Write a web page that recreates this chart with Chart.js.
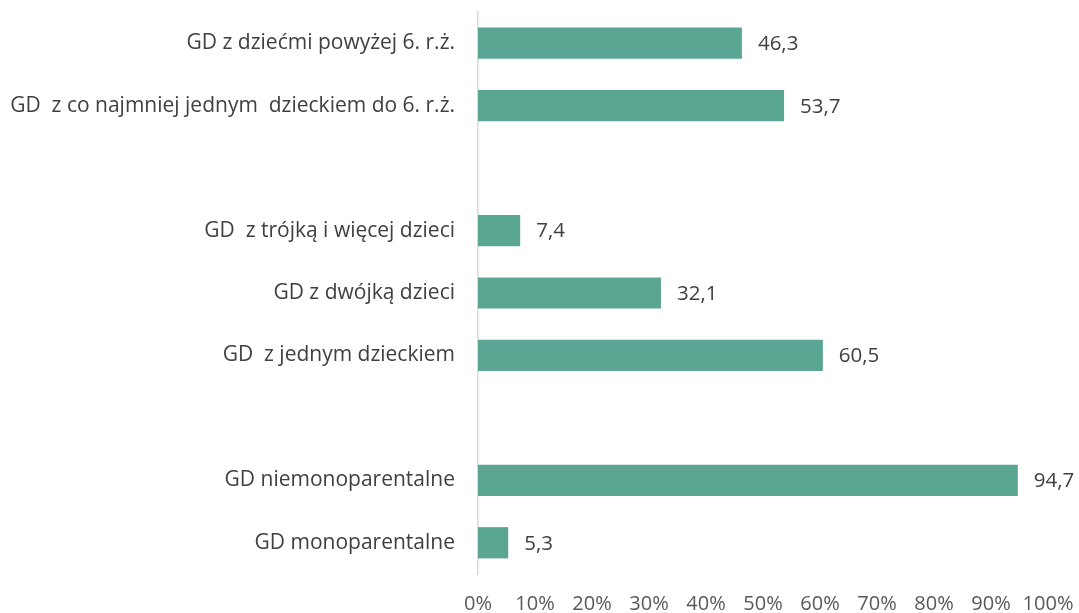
<!DOCTYPE html>
<html>
<head>
<meta charset="utf-8">
<script src="https://cdn.jsdelivr.net/npm/chart.js@4"></script>
<style>
  html, body { margin: 0; padding: 0; background: #fff; }
  #wrap { width: 1079px; height: 613px; }
</style>
</head>
<body>
<div id="wrap"><canvas id="chart" width="1079" height="613"></canvas></div>
<script>
// empty strings are the gaps between the groups
const categories = [
    'GD z dziećmi powyżej 6. r.ż.',
    'GD  z co najmniej jednym  dzieckiem do 6. r.ż.',
    '',
    'GD  z trójką i więcej dzieci',
    'GD z dwójką dzieci',
    'GD  z jednym dzieckiem',
    '',
    'GD niemonoparentalne',
    'GD monoparentalne'
];
const shares = [46.3, 53.7, null, 7.4, 32.1, 60.5, null, 94.7, 5.3];
const xTicks = [0, 10, 20, 30, 40, 50, 60, 70, 80, 90, 100];

const fontFamily = '"Open Sans", "Noto Sans", sans-serif';
const barColor = '#5BA593';

// value labels at the end of each bar
const valueLabels = {
    id: 'valueLabels',
    afterDatasetsDraw(chart) {
        const ctx = chart.ctx;
        const meta = chart.getDatasetMeta(0);
        ctx.save();
        ctx.font = '20.5px ' + fontFamily;
        ctx.fillStyle = '#404040';
        ctx.textAlign = 'left';
        ctx.textBaseline = 'middle';
        meta.data.forEach((bar, i) => {
            const v = shares[i];
            if (v === null) return;
            ctx.fillText(v.toFixed(1).replace('.', ','), bar.x + 16, bar.y + 1);
        });
        ctx.restore();
    }
};

const config = {
    type: 'bar',
    data: {
        labels: categories,
        datasets: [{
            data: shares,
            backgroundColor: barColor,
            borderWidth: 0,
            barPercentage: 0.5,
            categoryPercentage: 1.0
        }]
    },
    options: {
        indexAxis: 'y',
        responsive: false,
        animation: false,
        layout: { padding: { top: 12, right: 31, left: 0, bottom: 0 } },
        plugins: {
            legend: { display: false },
            tooltip: { enabled: false }
        },
        scales: {
            x: {
                min: 0,
                max: 100,
                afterBuildTicks: (scale) => {
                    scale.ticks = xTicks.map(v => ({ value: v }));
                },
                afterFit: (scale) => {
                    scale.height = 39;
                    scale.paddingLeft = 0;
                    scale.paddingRight = 0;
                },
                grid: { display: false, drawTicks: false },
                border: { display: false },
                ticks: {
                    padding: 18,
                    color: '#595959',
                    font: { family: fontFamily, size: 20 },
                    maxRotation: 0,
                    autoSkip: false,
                    callback: (v) => v + '%'
                }
            },
            y: {
                afterFit: (scale) => {
                    scale.width = 478;
                    scale.paddingTop = 0;
                    scale.paddingBottom = 0;
                },
                grid: { display: false, drawTicks: false },
                border: { display: true, color: '#d9d9d9', width: 1.5 },
                ticks: {
                    padding: 23,
                    color: '#404040',
                    font: { family: fontFamily, size: 21 },
                    autoSkip: false
                }
            }
        }
    },
    plugins: [valueLabels]
};

new Chart(document.getElementById('chart'), config);
</script>
</body>
</html>
